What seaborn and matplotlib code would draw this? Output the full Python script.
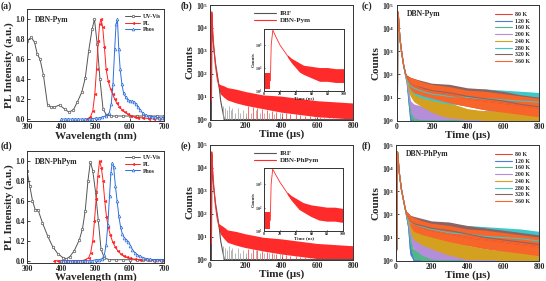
import numpy as np
import seaborn as sns
import matplotlib.pyplot as plt
from matplotlib.ticker import LogLocator, LogFormatterMathtext, MultipleLocator

sns.set_style("ticks")
plt.rcParams['font.family'] = ['Liberation Serif', 'DejaVu Serif']
plt.rcParams['font.weight'] = 'bold'
plt.rcParams['axes.labelweight'] = 'bold'
plt.rcParams['mathtext.fontset'] = 'custom'
plt.rcParams['mathtext.rm'] = 'Liberation Serif:bold'
plt.rcParams['mathtext.bf'] = 'Liberation Serif:bold'
plt.rcParams['mathtext.it'] = 'Liberation Serif:bold:italic'

# ---------------- steady-state spectra ----------------
# DBN-Pym (a)
uv_a_nm = [300, 312, 322, 330, 338, 348, 360, 370, 380, 395, 410, 422, 435, 447, 460, 470,
           480, 490, 497, 505, 513, 522, 532, 545, 560, 580, 600, 620, 640, 660, 680, 700]
uv_a = [0.78, 0.82, 0.77, 0.65, 0.6, 0.44, 0.14, 0.12, 0.12, 0.14, 0.1, 0.07, 0.09, 0.17, 0.27, 0.41,
        0.68, 0.9, 1.0, 0.75, 0.4, 0.1, 0.04, 0.03, 0.03, 0.03, 0.03, 0.03, 0.03, 0.03, 0.03, 0.03]
pl_a_nm = [475, 485, 492, 498, 503, 508, 512, 516, 521, 526, 531, 537, 544, 550, 556, 562, 570,
           578, 586, 595, 605, 615, 625, 640, 655, 670, 685, 700]
pl_a = [0.0, 0.02, 0.08, 0.25, 0.5, 0.78, 0.95, 1.0, 0.92, 0.72, 0.5, 0.38, 0.3, 0.25, 0.2, 0.16, 0.12,
        0.09, 0.07, 0.05, 0.03, 0.02, 0.015, 0.01, 0.005, 0.003, 0.002, 0.0]
ph_a_nm = [400, 410, 420, 430, 440, 450, 460, 470, 480, 490, 500, 510, 520, 530, 540, 546, 551,
           556, 560, 564, 568, 572, 577, 582, 588, 594, 600, 606, 612, 618, 624, 630, 638, 646,
           655, 665, 675, 685, 695, 700]
ph_a = [0.0, 0.0, 0.0, 0.0, 0.0, 0.0, 0.0, 0.0, 0.0, 0.0, 0.01, 0.01, 0.02, 0.03, 0.06, 0.15, 0.35,
        0.7, 0.95, 1.0, 0.7, 0.5, 0.35, 0.26, 0.22, 0.19, 0.18, 0.18, 0.17, 0.15, 0.12, 0.09, 0.06, 0.04,
        0.03, 0.02, 0.02, 0.01, 0.01, 0.01]

# DBN-PhPym (d)
uv_d_nm = [300, 308, 316, 324, 332, 345, 360, 375, 390, 405, 415, 425, 438, 453, 462, 470,
           478, 485, 492, 500, 508, 516, 525, 540, 560, 580, 600, 620, 640, 660, 680, 700]
uv_d = [0.9, 0.75, 0.6, 0.51, 0.51, 0.38, 0.25, 0.14, 0.07, 0.03, 0.02, 0.04, 0.1, 0.21, 0.32, 0.5,
        0.8, 0.99, 0.9, 0.69, 0.41, 0.12, 0.03, 0.01, 0.01, 0.01, 0.01, 0.01, 0.01, 0.01, 0.01, 0.01]
pl_d_nm = [380, 390, 400, 410, 420, 430, 440, 450, 460, 470, 480, 486, 492, 497, 502, 507, 512,
           517, 522, 527, 532, 537, 543, 550, 557, 565, 573, 582, 592, 602, 615, 630, 650, 670, 690, 700]
pl_d = [0.0, 0.0, 0.0, 0.0, 0.0, 0.0, 0.0, 0.0, 0.0, 0.01, 0.03, 0.08, 0.2, 0.4, 0.62, 0.85, 1.0,
        0.93, 0.8, 0.6, 0.44, 0.34, 0.26, 0.19, 0.14, 0.1, 0.07, 0.05, 0.035, 0.025, 0.015, 0.01,
        0.005, 0.0, 0.0, 0.0]
ph_d_nm = [400, 410, 420, 430, 440, 450, 460, 470, 480, 490, 500, 510, 520, 526, 531, 536, 541,
           545, 549, 553, 558, 563, 568, 573, 578, 584, 590, 596, 602, 608, 615, 622, 630, 640,
           650, 660, 670, 680, 690, 700]
ph_d = [0.0, 0.0, 0.0, 0.0, 0.0, 0.0, 0.0, 0.0, 0.0, 0.0, 0.01, 0.01, 0.02, 0.06, 0.16, 0.36, 0.65,
        0.88, 0.98, 0.94, 0.75, 0.6, 0.45, 0.34, 0.27, 0.23, 0.21, 0.19, 0.15, 0.11, 0.08, 0.06,
        0.045, 0.03, 0.02, 0.015, 0.01, 0.01, 0.01, 0.01]

# ---------------- decay curves (log10 counts) ----------------
t_main = [0, 5, 8, 10, 12, 15, 20, 30, 40, 50, 60, 80, 100, 150, 200, 300, 400, 500, 600, 700, 800]
irf_b = [0, 0, 0, 4.6, 4.2, 3.7, 3.2, 2.5, 2.0, 1.5, 0.8, 0, 0, 0, 0, 0, 0, 0, 0, 0, 0]
pym_b = [0.8, 0.8, 0.8, 4.7, 4.4, 3.9, 3.3, 2.4, 1.8, 1.45, 1.3, 1.2, 1.1, 1.0, 0.9, 0.75, 0.65,
         0.55, 0.45, 0.4, 0.35]
noise_b = [0.8, 0.8, 0.8, 0, 0, 0, 0, 0, 0, 0.1, 0.2, 0.25, 0.27, 0.3, 0.3, 0.3, 0.35, 0.35, 0.35,
           0.35, 0.35]
irf_e = [0, 0, 0, 4.6, 4.2, 3.7, 3.2, 2.5, 2.0, 1.5, 0.8, 0, 0, 0, 0, 0, 0, 0, 0, 0, 0]
phpym_e = [0.7, 0.7, 0.7, 4.7, 4.4, 3.9, 3.3, 2.4, 1.8, 1.45, 1.3, 1.15, 1.0, 0.9, 0.8, 0.65, 0.55,
           0.45, 0.35, 0.3, 0.25]
noise_e = [0.7, 0.7, 0.7, 0, 0, 0, 0, 0, 0, 0.1, 0.2, 0.25, 0.27, 0.3, 0.3, 0.3, 0.33, 0.33, 0.33,
           0.33, 0.33]
irf_spike_t = [75, 85, 95, 105, 115, 125, 140, 155, 170, 185, 200, 230, 255, 280, 300, 330, 360, 390]
irf_spike_h = [0.6, 0.5, 0.4, 0.6, 0.4, 0.5, 0.3, 0.5, 0.3, 0.4, 0.3, 0.3, 0.4, 0.3, 0.3, 0.3, 0.25, 0.3]
drop_t = [215, 240, 265, 290, 320, 345, 370, 400, 425, 450, 480, 505, 530, 560, 585, 615, 640, 665,
          690, 720, 745, 770, 795]

# insets (ns)
t_ins = [0, 8, 9, 11, 15, 20, 25, 30, 35, 40, 45, 50, 60, 70, 80, 90, 100]
ins_b = [1.45, 1.45, 3.0, 3.65, 3.35, 3.0, 2.75, 2.5, 2.3, 2.15, 2.0, 1.9, 1.8, 1.7, 1.7, 1.65, 1.65]
ins_e = [1.45, 1.45, 3.0, 3.65, 3.4, 3.1, 2.85, 2.6, 2.4, 2.25, 2.1, 2.0, 1.85, 1.75, 1.7, 1.7, 1.65]
noise_ins = [0.35, 0.35, 0, 0, 0, 0, 0, 0.05, 0.1, 0.15, 0.2, 0.2, 0.25, 0.3, 0.3, 0.3, 0.3]

# temperature dependent decays
temps = ['80 K', '120 K', '160 K', '200 K', '240 K', '280 K', '320 K', '360 K']
temp_colors = ['#e8413b', '#4a7fd8', '#52b788', '#b48ed8', '#d4a020', '#3cc8c8', '#8a6464', '#f7652a']
t_temp = [0, 3, 5, 7, 10, 15, 20, 30, 40, 50, 60, 70, 80, 100, 150, 200, 300, 400, 500, 600, 700, 800]
c_80 = [0, 0.5, 0.5, 4.7, 4.6, 4.0, 3.5, 2.9, 2.4, 2.05, 1.85, 1.7, 1.6, 1.5, 1.35, 1.25, 1.1, 0.95, 0.85, 0.75, 0.65, 0.55]
c_120 = [0, 0.5, 0.5, 4.7, 4.6, 4.0, 3.5, 2.9, 2.4, 2.0, 1.6, 0.8, 0, 0, 0, 0, 0, 0, 0, 0, 0, 0]
c_160 = [0, 0.5, 0.5, 4.7, 4.6, 4.0, 3.5, 2.9, 2.4, 2.0, 1.65, 1.0, 0.3, 0, 0, 0, 0, 0, 0, 0, 0, 0]
c_200 = [0, 0.5, 0.5, 4.7, 4.6, 4.0, 3.5, 2.9, 2.4, 2.0, 1.7, 1.2, 0.6, 0.4, 0.3, 0.2, 0.1, 0, 0, 0, 0, 0]
c_240 = [0, 0.5, 0.5, 4.7, 4.6, 4.0, 3.5, 2.9, 2.4, 2.05, 1.75, 1.45, 1.3, 1.1, 0.85, 0.65, 0.4, 0.15, 0, 0, 0, 0]
c_280 = [0, 0.5, 0.5, 4.7, 4.6, 4.0, 3.5, 2.9, 2.4, 2.05, 1.8, 1.6, 1.5, 1.4, 1.25, 1.15, 1.05, 1.0, 0.95, 0.9, 0.85, 0.8]
c_320 = [0, 0.5, 0.5, 4.7, 4.6, 4.0, 3.5, 2.9, 2.4, 2.05, 1.85, 1.7, 1.6, 1.5, 1.4, 1.3, 1.2, 1.05, 0.95, 0.85, 0.7, 0.6]
c_360 = [0, 0.5, 0.5, 4.7, 4.6, 4.0, 3.5, 2.9, 2.4, 2.05, 1.85, 1.7, 1.6, 1.5, 1.35, 1.25, 1.1, 0.95, 0.85, 0.75, 0.65, 0.55]
f_80 = [0, 0.5, 0.5, 4.7, 4.65, 4.1, 3.7, 3.1, 2.7, 2.3, 2.0, 1.85, 1.7, 1.55, 1.4, 1.3, 1.15, 1.0, 0.9, 0.8, 0.7, 0.6]
f_120 = [0, 0.5, 0.5, 4.7, 4.65, 4.1, 3.7, 3.1, 2.7, 2.3, 1.9, 1.5, 0.5, 0, 0, 0, 0, 0, 0, 0, 0, 0]
f_160 = [0, 0.5, 0.5, 4.7, 4.65, 4.1, 3.7, 3.1, 2.7, 2.3, 1.9, 1.6, 0.9, 0.2, 0, 0, 0, 0, 0, 0, 0, 0]
f_200 = [0, 0.5, 0.5, 4.7, 4.65, 4.1, 3.7, 3.1, 2.7, 2.3, 1.95, 1.7, 1.2, 0.8, 0.5, 0.35, 0.2, 0, 0, 0, 0, 0]
f_240 = [0, 0.5, 0.5, 4.7, 4.65, 4.1, 3.7, 3.1, 2.7, 2.3, 2.0, 1.75, 1.45, 1.2, 0.95, 0.8, 0.55, 0.3, 0.1, 0, 0, 0]
f_280 = [0, 0.5, 0.5, 4.7, 4.65, 4.1, 3.7, 3.1, 2.7, 2.3, 2.0, 1.8, 1.65, 1.55, 1.45, 1.35, 1.2, 1.15, 1.05, 1.0, 0.95, 0.85]
f_320 = [0, 0.5, 0.5, 4.7, 4.65, 4.1, 3.7, 3.1, 2.7, 2.3, 2.0, 1.85, 1.7, 1.6, 1.5, 1.4, 1.3, 1.15, 1.0, 0.9, 0.8, 0.7]
f_360 = [0, 0.5, 0.5, 4.7, 4.65, 4.1, 3.7, 3.1, 2.7, 2.3, 2.0, 1.85, 1.7, 1.55, 1.4, 1.3, 1.15, 1.0, 0.9, 0.8, 0.7, 0.6]
noise_temp = [0, 0.5, 0.5, 0, 0, 0, 0, 0, 0, 0, 0.1, 0.2, 0.25, 0.3, 0.3, 0.3, 0.35, 0.35, 0.4, 0.4, 0.4, 0.4]

W, H = 546, 281
fig = plt.figure(figsize=(W / 100, H / 100), dpi=100)


def box(l, t, r, b):
    return [l / W, 1 - b / H, (r - l) / W, (b - t) / H]


def style(ax, fs=5.5):
    ax.tick_params(direction='in', length=2, width=0.6, labelsize=fs, pad=1.5)
    for s in ax.spines.values():
        s.set_linewidth(0.7)
        s.set_color('#333333')
    for lab in ax.get_xticklabels() + ax.get_yticklabels():
        lab.set_fontweight('bold')


def spectra(ax, uv, pl, ph, name):
    sns.lineplot(x=uv[0], y=uv[1], ax=ax, color='#555555', lw=0.7, marker='o', ms=1.8,
                 mfc='white', mec='#555555', mew=0.5, label='UV-Vis', sort=False)
    sns.lineplot(x=pl[0], y=pl[1], ax=ax, color='#ff2222', lw=0.7, marker='<', ms=2.0,
                 mfc='#ff2222', mec='#ff2222', mew=0.3, label='PL', sort=False)
    sns.lineplot(x=ph[0], y=ph[1], ax=ax, color='#2f6fdb', lw=0.7, marker='^', ms=2.0,
                 mfc='white', mec='#2f6fdb', mew=0.5, label='Phos', sort=False)
    ax.set_xlim(300, 700)
    ax.set_ylim(-0.02, 1.1)
    ax.xaxis.set_major_locator(MultipleLocator(100))
    ax.yaxis.set_major_locator(MultipleLocator(0.2))
    ax.yaxis.set_major_formatter(plt.FormatStrFormatter('%.1f'))
    ax.set_xlabel('Wavelength (nm)', fontsize=8, labelpad=0)
    ax.set_ylabel('PL Intensity (a.u.)', fontsize=8, labelpad=1)
    ax.text(0.06, 0.9, name, transform=ax.transAxes, fontsize=5.5, fontweight='bold', va='center')
    ax.legend(loc='upper right', bbox_to_anchor=(1.01, 1.0), frameon=False, fontsize=4.2,
              handlelength=2.6, labelspacing=0.25, handletextpad=0.4, borderpad=0.3)
    style(ax)


def band(ax, t, c, nz, color, lw=0.7, label=None):
    c = np.array(c)
    nz = np.array(nz)
    lo = np.clip(c - nz, 0, None)
    hi = c + nz
    ax.fill_between(t, 10 ** lo, 10 ** hi, color=color, lw=0, where=nz > 0, interpolate=False)
    sns.lineplot(x=t, y=10 ** c, ax=ax, color=color, lw=lw, label=label, sort=False)


def log_axis(ax, top=1e5):
    ax.set_yscale('log')
    ax.set_xlim(0, 800)
    ax.set_ylim(1, top)
    ax.yaxis.set_major_locator(LogLocator(base=10, numticks=10))
    ax.yaxis.set_major_formatter(LogFormatterMathtext())
    ax.yaxis.set_minor_locator(plt.NullLocator())
    ax.xaxis.set_major_locator(MultipleLocator(200))
    ax.set_xlabel('Time (\u03bcs)', fontsize=8, labelpad=0)
    ax.set_ylabel('Counts', fontsize=8, labelpad=1)


def tcspc(ax, irf, sample, nz, name, ins_rect, ins_data):
    sns.lineplot(x=t_main, y=10 ** np.array(irf, dtype=float), ax=ax, color='#555555', lw=0.8,
                 label='IRF', sort=False)
    ax.vlines(irf_spike_t, 1, 10 ** np.array(irf_spike_h), color='#9a9a9a', lw=0.5)
    band(ax, t_main, sample, nz, '#ff2a2a', lw=0.8, label=name)
    lo = np.interp(drop_t, t_main, np.array(sample) - np.array(nz))
    ax.vlines(drop_t, 1, 10 ** np.clip(lo, 0, None), color='#ff2a2a', lw=0.5)
    log_axis(ax)
    ax.legend(loc='upper left', bbox_to_anchor=(0.27, 1.0), frameon=False, fontsize=5,
              handlelength=3.2, labelspacing=0.15, handletextpad=0.5, borderpad=0.3)
    style(ax)
    ins = fig.add_axes(box(*ins_rect))
    band(ins, t_ins, ins_data, noise_ins, '#ff2a2a', lw=0.6)
    ins.set_yscale('log')
    ins.set_xlim(0, 100)
    ins.set_ylim(10, 10 ** 3.7)
    ins.set_yticks([10, 100, 1000])
    ins.yaxis.set_major_formatter(LogFormatterMathtext())
    ins.yaxis.set_minor_locator(plt.NullLocator())
    ins.xaxis.set_major_locator(MultipleLocator(20))
    ins.set_xlabel('Time (ns)', fontsize=3.5, labelpad=0)
    ins.set_ylabel('Counts', fontsize=3.5, labelpad=0)
    style(ins, fs=3)
    ins.tick_params(length=1, pad=0.8)


def temp_panel(ax, series, name):
    for lab, col, c in zip(temps, temp_colors, series):
        band(ax, t_temp, c, noise_temp, col, lw=0.8, label=lab)
    log_axis(ax)
    ax.text(0.07, 0.92, name, transform=ax.transAxes, fontsize=5.5, fontweight='bold', va='center')
    ax.legend(loc='upper right', bbox_to_anchor=(0.97, 0.98), frameon=False, fontsize=4.2,
              handlelength=2.8, labelspacing=0.28, handletextpad=0.6, borderpad=0.3)
    style(ax)


ax_a = fig.add_axes(box(27, 9.3, 164, 121))
spectra(ax_a, (uv_a_nm, uv_a), (pl_a_nm, pl_a), (ph_a_nm, ph_a), 'DBN-Pym')
ax_d = fig.add_axes(box(27, 150.7, 164, 262.7))
spectra(ax_d, (uv_d_nm, uv_d), (pl_d_nm, pl_d), (ph_d_nm, ph_d), 'DBN-PhPym')

ax_b = fig.add_axes(box(210, 5, 353, 119.5))
tcspc(ax_b, irf_b, pym_b, noise_b, 'DBN-Pym', (264, 29, 344, 91), ins_b)
ax_e = fig.add_axes(box(210, 145, 353, 259.5))
tcspc(ax_e, irf_e, phpym_e, noise_e, 'DBN-PhPym', (264, 168, 343, 231), ins_e)

ax_c = fig.add_axes(box(396.5, 5, 539, 120.7))
temp_panel(ax_c, [c_80, c_120, c_160, c_200, c_240, c_280, c_320, c_360], 'DBN-Pym')
ax_f = fig.add_axes(box(396, 145, 539, 260.7))
temp_panel(ax_f, [f_80, f_120, f_160, f_200, f_240, f_280, f_320, f_360], 'DBN-PhPym')

for x, y, s in [(1, 1, '(a)'), (181, 1, '(b)'), (362, 1, '(c)'),
                (1, 141, '(d)'), (181, 141, '(e)'), (362, 141, '(f)')]:
    fig.text(x / W, 1 - y / H, s, fontsize=7, fontweight='bold', va='top', ha='left')

fig.savefig('out.png', dpi=100)
